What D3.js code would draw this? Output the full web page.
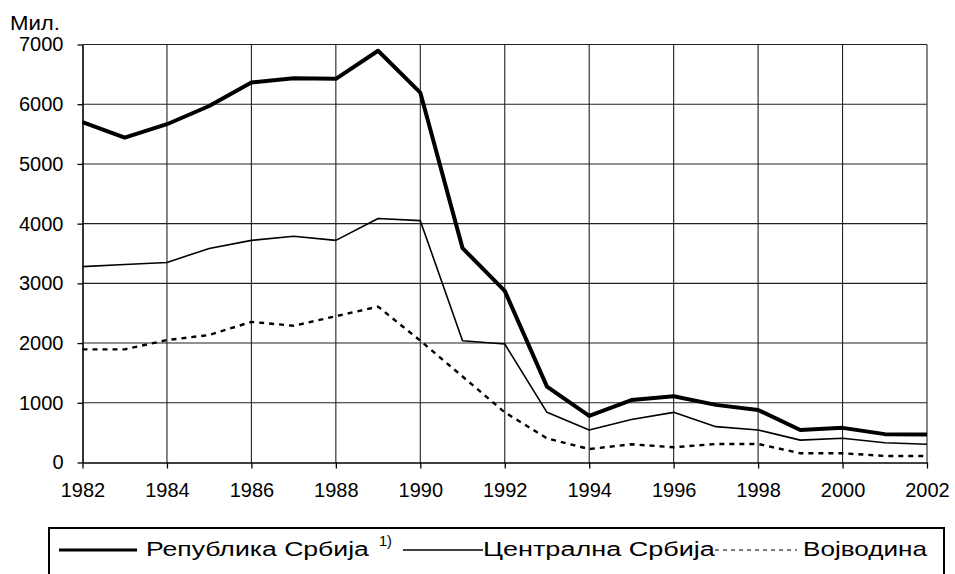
<!DOCTYPE html>
<html>
<head>
<meta charset="utf-8">
<script src="https://cdn.jsdelivr.net/npm/d3@7"></script>
<style>
  html, body { margin: 0; padding: 0; background: #fff; }
  svg { display: block; font-family: "Liberation Sans", Arial, sans-serif; }
</style>
</head>
<body>
<svg id="chart" width="955" height="574"></svg>
<script>
// Вредности очитане са графика (мил.)
const years = d3.range(1982, 2003);
const srbija   = [5700, 5440, 5665, 5970, 6365, 6435, 6425, 6895, 6195, 3590, 2875, 1270, 780, 1045, 1110, 965, 880, 545, 580, 475, 470];
const centralna = [3280, 3315, 3350, 3585, 3720, 3790, 3720, 4085, 4050, 2040, 1985, 840, 545, 720, 840, 600, 545, 375, 405, 330, 305];
const vojvodina = [1895, 1895, 2050, 2135, 2355, 2290, 2450, 2610, 2040, 1440, 840, 405, 225, 305, 255, 310, 310, 155, 155, 110, 110];

const yTicks = [0, 1000, 2000, 3000, 4000, 5000, 6000, 7000];
const xTicks = d3.range(1982, 2003, 2);

const series = [
  { name: "Република Србија", values: srbija,    width: 4,   dash: null },
  { name: "Централна Србија", values: centralna, width: 1.6, dash: null },
  { name: "Војводина",        values: vojvodina, width: 2.4, dash: "5,5" }
];

const svg = d3.select("#chart");
const margin = { left: 82.5, right: 927, top: 44.5, bottom: 462.5 };

const x = d3.scaleLinear().domain([1982, 2002]).range([margin.left, margin.right]);
const y = d3.scaleLinear().domain([0, 7000]).range([margin.bottom, margin.top]);

// мрежа
const grid = svg.append("g");
grid.selectAll("line.h")
  .data(yTicks.filter(d => d > 0))
  .join("line")
  .attr("x1", margin.left).attr("x2", margin.right)
  .attr("y1", d => y(d)).attr("y2", d => y(d))
  .attr("stroke", "#222").attr("stroke-width", 1.1);
grid.selectAll("line.v")
  .data(xTicks.slice(1))
  .join("line")
  .attr("x1", d => x(d)).attr("x2", d => x(d))
  .attr("y1", margin.top).attr("y2", margin.bottom)
  .attr("stroke", "#222").attr("stroke-width", 1.1);

// осе
const yAxis = svg.append("g")
  .attr("transform", `translate(${margin.left},0)`)
  .call(d3.axisLeft(y).tickValues(yTicks).tickFormat(d3.format("d"))
    .tickSize(5).tickPadding(14).tickSizeOuter(0));

const xAxis = svg.append("g")
  .attr("transform", `translate(0,${margin.bottom})`)
  .call(d3.axisBottom(x).tickValues(xTicks).tickFormat(d3.format("d"))
    .tickSize(6).tickPadding(14).tickSizeOuter(0));

[yAxis, xAxis].forEach(a => {
  a.selectAll("path.domain").attr("stroke", "#000").attr("stroke-width", 1.6);
  a.selectAll(".tick line").attr("stroke", "#000").attr("stroke-width", 1.3);
  a.selectAll("text").attr("font-size", 20).attr("fill", "#000")
    .attr("font-family", "'Liberation Sans', Arial, sans-serif");
});

// развучен текст: скалира се по ширини на задату дужину
function stretchedText(parent, txt, tx, ty, size, targetWidth) {
  const t = parent.append("text")
    .attr("font-size", size)
    .text(txt);
  const w = t.node().getComputedTextLength();
  const sx = targetWidth ? targetWidth / w : 1;
  t.attr("transform", `translate(${tx},${ty}) scale(${sx},1)`);
  return t;
}

stretchedText(svg, "Мил.", 10, 30, 20, 50);

// линије
const line = d3.line()
  .x((d, i) => x(years[i]))
  .y(d => y(d));

svg.append("g").selectAll("path")
  .data(series)
  .join("path")
  .attr("d", d => line(d.values))
  .attr("fill", "none")
  .attr("stroke", "#000")
  .attr("stroke-width", d => d.width)
  .attr("stroke-dasharray", d => d.dash)
  .attr("stroke-linejoin", "round");

// легенда
const legend = svg.append("g");
legend.append("rect")
  .attr("x", 49).attr("y", 528)
  .attr("width", 895).attr("height", 70)
  .attr("fill", "none").attr("stroke", "#000").attr("stroke-width", 2);

const legendItems = [
  { x1: 59,  x2: 137, tx: 146, tw: 223, width: 3,   dash: null },
  { x1: 403, x2: 483, tx: 483, tw: 232, width: 1.3, dash: null },
  { x1: 715, x2: 797, tx: 803, tw: 124, width: 1.2, dash: "4,4" }
];
legendItems.forEach((it, i) => {
  legend.append("line")
    .attr("x1", it.x1).attr("x2", it.x2)
    .attr("y1", 550).attr("y2", 550)
    .attr("stroke", "#000").attr("stroke-width", it.width)
    .attr("stroke-dasharray", it.dash);
  stretchedText(legend, series[i].name, it.tx, 556, 21, it.tw);
});
stretchedText(legend, "1)", 379, 546, 14, 13);
</script>
</body>
</html>
